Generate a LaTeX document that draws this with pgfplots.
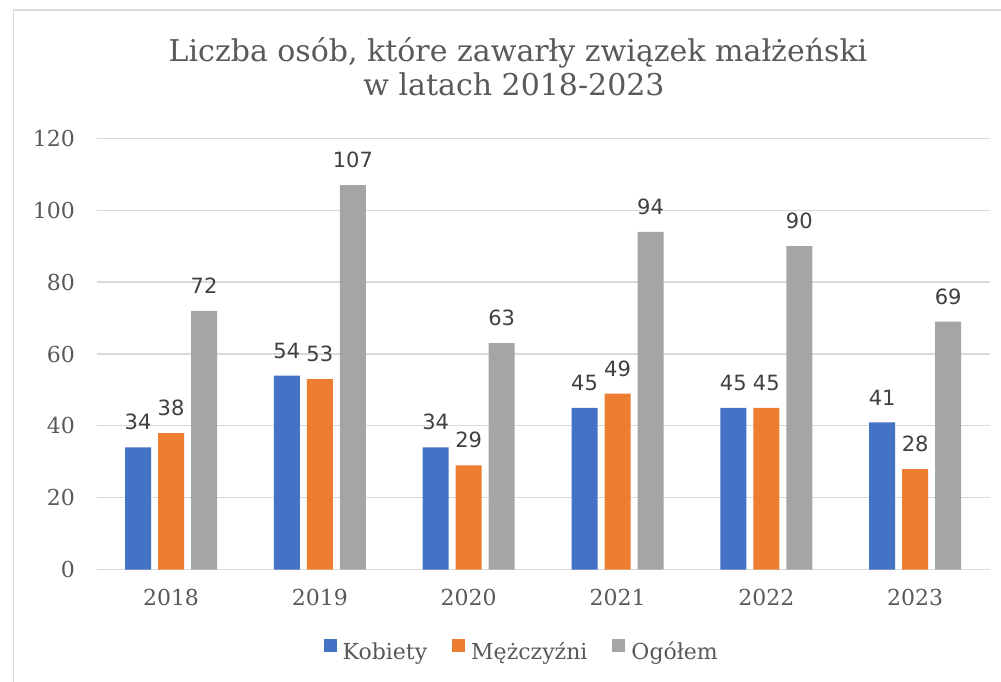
\documentclass[border=0pt]{standalone}
\usepackage{pgfplots}
\pgfplotsset{compat=1.18}
\usepackage{fontspec}
\setmainfont{DejaVu Serif}
\newfontfamily\labelfont{DejaVu Sans}
\definecolor{cBlue}{HTML}{4472C4}
\definecolor{cOrange}{HTML}{ED7D31}
\definecolor{cGray}{HTML}{A5A5A5}
\definecolor{txt}{HTML}{595959}
\definecolor{lbl}{HTML}{404040}
\definecolor{gridc}{HTML}{D9D9D9}
\begin{document}
\begin{tikzpicture}[x=1pt,y=1pt]
\path[use as bounding box] (0,0) rectangle (1001,682);
\fill[white] (0,0) rectangle (1001,682);
\draw[gridc, line width=1.5pt] (13.5,0) -- (13.5,672) -- (1001,672);
\node[anchor=base, text=txt, font=\fontsize{30}{36}\selectfont, inner sep=0pt] at (518,620) {Liczba osób, które zawarły związek małżeński};
\node[anchor=base, text=txt, font=\fontsize{30}{36}\selectfont, inner sep=0pt] at (514,586) {w latach 2018-2023};
\begin{axis}[
  at={(96.6pt,112.3pt)}, anchor=south west,
  scale only axis, width=893pt, height=431.4pt,
  xmin=-0.5, xmax=5.5, ymin=0, ymax=120,
  enlargelimits=false,
  ybar=7pt, bar width=26pt,
  xtick={0,1,2,3,4,5}, xticklabels={2018,2019,2020,2021,2022,2023},
  ytick={0,20,...,120},
  axis line style={draw=none},
  tick style={draw=none},
  major tick length=0pt,
  ymajorgrids, grid style={gridc, line width=1.2pt},
  /pgf/number format/assume math mode=true,
  yticklabel style={anchor=east, inner sep=0pt, xshift=-21.6pt, text=txt, font=\fontsize{22}{26}\selectfont},
  xticklabel style={anchor=north, inner sep=0pt, yshift=-19pt, text=txt, font=\fontsize{22}{26}\selectfont},
  nodes near coords,
  every node near coord/.append style={font=\labelfont\fontsize{21}{25}\selectfont, text=lbl, anchor=south, inner sep=0pt, yshift=17pt},
  legend style={at={(0.475,-0.186)}, anchor=center, draw=none, fill=none, legend columns=3,
    font=\fontsize{22}{26}\selectfont, text=txt, nodes={inner sep=0pt},
    /tikz/every odd column/.append style={column sep=6pt},
    /tikz/every even column/.append style={column sep=25pt}},
  legend image code/.code={\fill[#1] (0pt,0pt) rectangle (13pt,13pt);},
]
\addplot[fill=cBlue, draw=none] coordinates {(0,34) (1,54) (2,34) (3,45) (4,45) (5,41)};
\addplot[fill=cOrange, draw=none] coordinates {(0,38) (1,53) (2,29) (3,49) (4,45) (5,28)};
\addplot[fill=cGray, draw=none] coordinates {(0,72) (1,107) (2,63) (3,94) (4,90) (5,69)};
\legend{Kobiety, Mężczyźni, Ogółem}
\end{axis}
\end{tikzpicture}
\end{document}
